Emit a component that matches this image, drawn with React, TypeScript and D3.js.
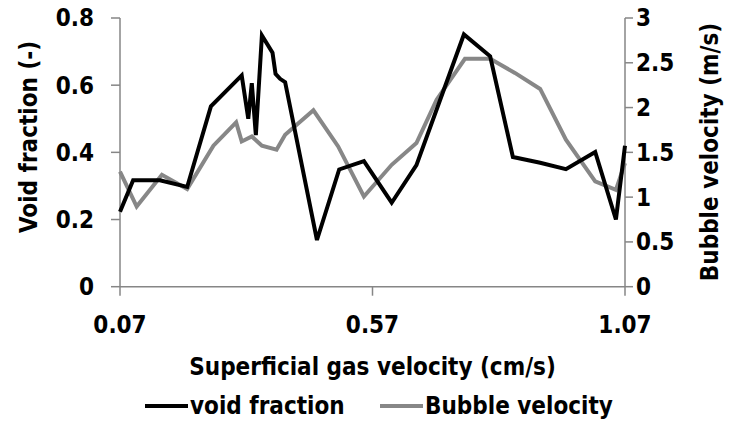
import * as d3 from 'd3'
import React from 'react'

// superficial gas velocity (cm/s) for each sample
const voidX = [
  0.07, 0.096, 0.149, 0.203, 0.25, 0.311, 0.324, 0.331, 0.339, 0.351, 0.372, 0.378, 0.387, 0.397,
  0.46, 0.504, 0.553, 0.608, 0.657, 0.751, 0.803, 0.848, 0.902, 0.953, 1.011, 1.052, 1.07,
]
const voidFraction = [
  0.223, 0.317, 0.317, 0.297, 0.537, 0.629, 0.5, 0.606, 0.451, 0.748, 0.697, 0.634, 0.619, 0.609,
  0.139, 0.349, 0.374, 0.25, 0.362, 0.751, 0.686, 0.386, 0.369, 0.35, 0.401, 0.2, 0.42,
]

const bubbleX = [
  0.07, 0.103, 0.153, 0.203, 0.255, 0.3, 0.311, 0.331, 0.351, 0.38, 0.397, 0.453, 0.502, 0.553,
  0.608, 0.657, 0.697, 0.753, 0.803, 0.852, 0.902, 0.953, 1.011, 1.052, 1.07,
]
const bubbleVelocity = [
  1.286, 0.895, 1.249, 1.09, 1.574, 1.834, 1.622, 1.678, 1.574, 1.529, 1.697, 1.969, 1.566, 1.007,
  1.361, 1.604, 2.088, 2.544, 2.544, 2.387, 2.208, 1.641, 1.175, 1.082, 1.38,
]

const xTicks = [0.07, 0.57, 1.07]
const leftTicks = [0, 0.2, 0.4, 0.6, 0.8]
const rightTicks = [0, 0.5, 1, 1.5, 2, 2.5, 3]

const W = 729
const H = 423
const font = "'Liberation Sans Narrow', 'DejaVu Sans Condensed', sans-serif"
const axisGray = '#868686'
const lineGray = '#878787'

export default function App() {
  const x = d3.scaleLinear().domain([0.07, 1.07]).range([120, 625])
  const yL = d3.scaleLinear().domain([0, 0.8]).range([286.7, 18])
  const yR = d3.scaleLinear().domain([0, 3]).range([286.7, 18])

  const voidLine = d3
    .line<number>()
    .x((_, i) => x(voidX[i]))
    .y(d => yL(d))
  const bubbleLine = d3
    .line<number>()
    .x((_, i) => x(bubbleX[i]))
    .y(d => yR(d))

  const [x0, x1] = x.range()
  const yBase = yL(0)
  const yTop = yL(0.8)

  return (
    <svg
      width={W}
      height={H}
      style={{ position: 'absolute', left: 0, top: 0, background: '#fff' }}
      fontFamily={font}
      fontWeight="bold"
    >
      {/* axes */}
      <g stroke={axisGray} strokeWidth={1.5} fill="none">
        <line x1={x0} y1={yTop} x2={x0} y2={yBase} />
        <line x1={x1} y1={yTop} x2={x1} y2={yBase} />
        <line x1={x0} y1={yBase} x2={x1} y2={yBase} />
        {leftTicks.map(t => (
          <line key={'l' + t} x1={x0 - 9} x2={x0} y1={yL(t)} y2={yL(t)} />
        ))}
        {rightTicks.map(t => (
          <line key={'r' + t} x1={x1} x2={x1 + 8} y1={yR(t)} y2={yR(t)} />
        ))}
        {xTicks.map(t => (
          <line key={'x' + t} x1={x(t)} x2={x(t)} y1={yBase} y2={yBase + 9} />
        ))}
      </g>

      {/* series */}
      <path d={bubbleLine(bubbleVelocity) ?? ''} fill="none" stroke={lineGray} strokeWidth={4} strokeLinejoin="miter" />
      <path d={voidLine(voidFraction) ?? ''} fill="none" stroke="#000" strokeWidth={4} strokeLinejoin="miter" />

      {/* tick labels */}
      <g fontSize={24} fill="#000">
        {leftTicks.map(t => (
          <text key={'lt' + t} x={94} y={yL(t)} dy="0.35em" textAnchor="end">
            {d3.format('~g')(t)}
          </text>
        ))}
        {rightTicks.map(t => (
          <text key={'rt' + t} x={636} y={yR(t)} dy="0.35em" textAnchor="start">
            {d3.format('~g')(t)}
          </text>
        ))}
        {xTicks.map(t => (
          <text key={'xt' + t} x={x(t)} y={333} textAnchor="middle">
            {t.toFixed(2)}
          </text>
        ))}
      </g>

      {/* axis titles */}
      <g fontSize={24} fill="#000">
        <text x={372.5} y={375} textAnchor="middle">
          Superficial gas velocity (cm/s)
        </text>
        <text transform="translate(37,137) rotate(-90)" textAnchor="middle">
          Void fraction (-)
        </text>
        <text transform="translate(718,152) rotate(-90)" textAnchor="middle">
          Bubble velocity (m/s)
        </text>
      </g>

      {/* legend */}
      <g fontSize={24} fill="#000">
        <line x1={145} x2={188} y1={406} y2={406} stroke="#000" strokeWidth={4} />
        <text x={190} y={414}>void fraction</text>
        <line x1={380} x2={423} y1={406} y2={406} stroke={lineGray} strokeWidth={4} />
        <text x={425} y={414}>Bubble velocity</text>
      </g>
    </svg>
  )
}
